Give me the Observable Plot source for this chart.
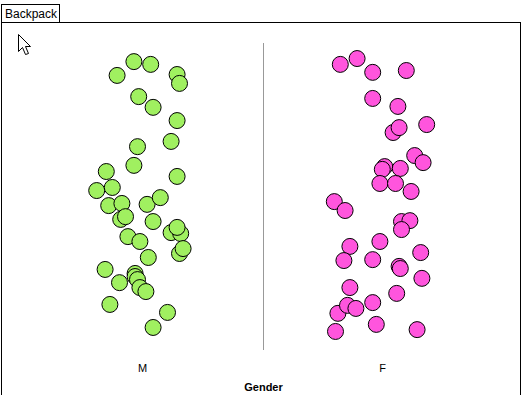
<!DOCTYPE html>
<html>
<head>
<meta charset="utf-8">
<script src="https://cdn.jsdelivr.net/npm/d3@7"></script>
<script src="https://cdn.jsdelivr.net/npm/@observablehq/plot@0.6"></script>
<style>
  html, body { margin: 0; padding: 0; background: #fff; }
  body { width: 522px; height: 395px; position: relative; overflow: hidden; font-family: "Liberation Sans", Arial, sans-serif; }
  #tab { position: absolute; left: 1px; top: 4px; width: 54px; height: 18px; border: 1px solid #000; border-bottom: none; font-size: 12px; line-height: 18px; padding-left: 3px; box-sizing: content-box; }
  #panel { position: absolute; left: 1px; top: 22px; width: 518px; height: 400px; border: 1px solid #000; }
  #cursor { position: absolute; left: 18px; top: 34px; }
  #chart { position: absolute; left: 0; top: 0; }
  #chart [aria-label="fx-axis label"] text { font-weight: bold; }
</style>
</head>
<body>
<div id="tab">Backpack</div>
<div id="panel"></div>
<svg id="cursor" width="15" height="23" viewBox="0 0 15 23"><path d="M0.5 0.5 L0.5 17.5 L4.5 13.5 L7.5 20.5 L10.5 19.5 L7.5 12.5 L12.5 12.5 Z" fill="#fff" stroke="#000" stroke-width="1"/></svg>
<div id="chart"></div>
<script>
// Gender categories
const genders = ["M", "F"];
// Male dots: horizontal jitter (-100..100 within category) and vertical position (0..100)
const mJitter = [-8, 6, -22, 28, 30, -4, 8, 28, 23, -5, -8, -31, 28, -39, -26, -29, -18, 3, 14, -19, -15, 8, 23, 31, 28, -13, -3, 4, 30, 33, -32, -20, -7, -7, -5, -3, 2, -28, 20, 8];
const mLevel  = [94.1, 93.2, 89.6, 89.9, 87.0, 82.7, 79.2, 74.9, 68.1, 66.4, 60.3, 58.3, 56.7, 52.1, 53.1, 47.2, 47.9, 47.6, 49.8, 42.7, 43.6, 42.0, 38.4, 38.1, 40.1, 37.1, 35.5, 30.3, 31.6, 33.2, 26.4, 22.1, 25.1, 24.1, 23.1, 20.5, 19.2, 15.0, 12.4, 7.5];
// Female dots
const fJitter = [-36, -22, -9, 19, -9, 12, 8, 13, 36, 26, 33, 1, -1, 14, -3, 10, 23, -41, -32, 15, 22, 15, -28, -3, -33, -9, 31, 13, 14, 32, -28, 11, -9, -38, -30, -23, -6, -40, 28];
const fLevel  = [93.2, 95.1, 90.6, 91.2, 82.1, 79.5, 71.0, 72.6, 73.6, 63.5, 61.2, 59.9, 59.0, 59.3, 54.4, 54.4, 51.8, 48.5, 45.6, 42.0, 42.3, 39.4, 33.9, 35.5, 29.3, 29.6, 31.9, 27.4, 26.7, 23.5, 20.5, 18.6, 15.6, 12.1, 14.7, 13.7, 8.5, 6.2, 6.8];

const colors = { M: "#a0f060", F: "#ff55dd" };

const data = [
  ...mJitter.map((j, i) => ({ gender: "M", jitter: j, level: mLevel[i] })),
  ...fJitter.map((j, i) => ({ gender: "F", jitter: j, level: fLevel[i] }))
];

const chart = Plot.plot({
  width: 522,
  height: 395,
  marginLeft: 23,
  marginRight: 19,
  marginTop: 43,
  marginBottom: 45,
  style: { background: "none", fontFamily: "'Liberation Sans', Arial, sans-serif", fontSize: "11px", color: "#000" },
  fx: { domain: genders, padding: 0 },
  x: { domain: [-100, 100], axis: null },
  y: { domain: [0, 100], axis: null },
  color: { domain: genders, range: genders.map(g => colors[g]) },
  marks: [
    Plot.ruleX([{ gender: "M", edge: 100 }], { fx: "gender", x: "edge", stroke: "#999", strokeWidth: 1 }),
    Plot.dot(data, { fx: "gender", x: "jitter", y: "level", r: 8, fill: "gender", stroke: "#000", strokeWidth: 1, fillOpacity: 1 }),
    Plot.axisFx({ anchor: "bottom", tickSize: 0, tickPadding: 14, dx: -1, label: "Gender", labelAnchor: "center", labelOffset: 40, fontSize: 11, fill: "#000" })
  ]
});
document.getElementById("chart").appendChild(chart);
</script>
</body>
</html>
